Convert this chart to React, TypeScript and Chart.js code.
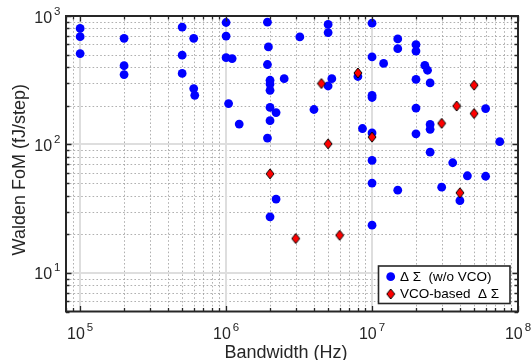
import React, { useEffect, useRef } from 'react';
import { Chart, registerables } from 'chart.js';

Chart.register(...registerables);

// ---- data ----
const sdmBandwidth = [
  1e5, 1e5, 1e5, 2e5, 2e5, 2e5, 5e5, 5e5, 5e5, 6e5, 6e5, 6.1e5,
  1e6, 1e6, 1e6, 1.1e6, 1.04e6, 1.23e6, 1.92e6, 1.95e6, 1.92e6,
  2e6, 2e6, 2e6, 2e6, 2.2e6, 2e6, 1.92e6, 2.5e6, 3.2e6, 4e6,
  5e6, 5e6, 5.3e6, 5e6, 8e6, 8.6e6,
  1e7, 1e7, 1e7, 1e7, 1e7, 1e7, 1e7, 1e7, 1.2e7, 1.5e7, 1.5e7, 1.5e7,
  2e7, 2e7, 2e7, 2e7, 2e7, 2.3e7, 2.4e7, 2.5e7, 2.5e7, 2.5e7, 2.5e7,
  3e7, 3.57e7, 4e7, 4.5e7, 6e7, 6e7, 7.5e7, 2.2e6, 2e6,
];
const sdmFoM = [
  800, 690, 510, 670, 410, 350, 820, 495, 357, 670, 272, 241,
  890, 698, 474, 466, 208, 144, 895, 574, 419,
  316, 295, 264, 194, 177, 153, 112, 325, 687, 187,
  860, 743, 325, 285, 338, 133,
  880, 480, 241, 232, 123, 75, 50, 23.5, 427, 663, 557, 44,
  598, 533, 321, 192, 121, 413, 378, 301, 143, 131, 87,
  46.5, 72, 36.5, 57, 190, 56.5, 105, 37.5, 27.3,
];
const vcoBandwidth = [2e6, 3e6, 4.5e6, 5e6, 6e6, 8e6, 1e7, 3e7, 3.8e7, 4e7, 5e7, 5e7];
const vcoFoM = [59, 18.5, 298, 101, 19.6, 360, 114, 146, 199, 42, 289, 174];

const xTickExponents = [5, 6, 7, 8];
const yTickExponents = [1, 2, 3];
const xAxisTitle = 'Bandwidth (Hz)';
const yAxisTitle = 'Walden FoM (fJ/step)';
const legendLabels = ['\u0394 \u03A3  (w/o VCO)', 'VCO-based  \u0394 \u03A3'];

const X_MIN = 8e4;
const X_MAX = 1e8;
const Y_MIN = 5;
const Y_MAX = 1000;

const FONT = '"Liberation Sans", Arial, Helvetica, sans-serif';
const AXIS_COLOR = '#262626';

function makeDiamond(): HTMLCanvasElement {
  const c = document.createElement('canvas');
  c.width = 10;
  c.height = 12;
  const g = c.getContext('2d')!;
  g.beginPath();
  g.moveTo(5, 1);
  g.lineTo(9, 6);
  g.lineTo(5, 11);
  g.lineTo(1, 6);
  g.closePath();
  g.fillStyle = '#ff0000';
  g.fill();
  g.lineWidth = 1;
  g.strokeStyle = '#000000';
  g.stroke();
  return c;
}

function logValues(min: number, max: number) {
  const out: { v: number; major: boolean }[] = [];
  const d0 = Math.floor(Math.log10(min));
  const d1 = Math.ceil(Math.log10(max));
  for (let d = d0; d <= d1; d++) {
    for (let m = 1; m <= 9; m++) {
      const v = m * Math.pow(10, d);
      if (v < min * 0.9999 || v > max * 1.0001) continue;
      out.push({ v, major: m === 1 });
    }
  }
  return out;
}

function makePlugin(diamond: HTMLCanvasElement) {
  return {
    id: 'matlabAxes',
    beforeDatasetsDraw(chart: any) {
      const { ctx, chartArea: a } = chart;
      const xs = chart.scales.x;
      const ys = chart.scales.y;
      ctx.save();
      ctx.beginPath();
      ctx.rect(a.left, a.top, a.right - a.left, a.bottom - a.top);
      ctx.clip();
      const xv = logValues(X_MIN, X_MAX);
      const yv = logValues(Y_MIN, Y_MAX);
      // minor dotted grid
      ctx.setLineDash([1.6, 2.2]);
      ctx.strokeStyle = 'rgba(150,150,150,0.75)';
      ctx.lineWidth = 1;
      ctx.beginPath();
      for (const t of xv) {
        if (t.major) continue;
        const px = Math.round(xs.getPixelForValue(t.v)) + 0.5;
        ctx.moveTo(px, a.top);
        ctx.lineTo(px, a.bottom);
      }
      for (const t of yv) {
        if (t.major) continue;
        const py = Math.round(ys.getPixelForValue(t.v)) + 0.5;
        ctx.moveTo(a.left, py);
        ctx.lineTo(a.right, py);
      }
      ctx.stroke();
      // major solid grid
      ctx.setLineDash([]);
      ctx.strokeStyle = '#dedede';
      ctx.lineWidth = 2;
      ctx.beginPath();
      for (const t of xv) {
        if (!t.major) continue;
        const px = Math.round(xs.getPixelForValue(t.v));
        ctx.moveTo(px, a.top);
        ctx.lineTo(px, a.bottom);
      }
      for (const t of yv) {
        if (!t.major) continue;
        const py = Math.round(ys.getPixelForValue(t.v));
        ctx.moveTo(a.left, py);
        ctx.lineTo(a.right, py);
      }
      ctx.stroke();
      ctx.restore();
    },
    afterDatasetsDraw(chart: any) {
      const { ctx, chartArea: a } = chart;
      const xs = chart.scales.x;
      const ys = chart.scales.y;
      ctx.save();
      // ticks (inside, all four sides)
      ctx.strokeStyle = AXIS_COLOR;
      ctx.lineWidth = 1.3;
      ctx.beginPath();
      for (const t of logValues(X_MIN, X_MAX)) {
        const px = Math.round(xs.getPixelForValue(t.v)) + 0.5;
        const len = t.major ? 5.5 : 3.5;
        ctx.moveTo(px, a.bottom);
        ctx.lineTo(px, a.bottom - len);
        ctx.moveTo(px, a.top);
        ctx.lineTo(px, a.top + len);
      }
      for (const t of logValues(Y_MIN, Y_MAX)) {
        const py = Math.round(ys.getPixelForValue(t.v)) + 0.5;
        const len = t.major ? 5.5 : 3.5;
        ctx.moveTo(a.left, py);
        ctx.lineTo(a.left + len, py);
        ctx.moveTo(a.right, py);
        ctx.lineTo(a.right - len, py);
      }
      ctx.stroke();
      // box
      ctx.lineWidth = 2;
      ctx.strokeRect(a.left, a.top, a.right - a.left, a.bottom - a.top);

      // tick labels
      ctx.fillStyle = AXIS_COLOR;
      ctx.textBaseline = 'alphabetic';
      ctx.textAlign = 'left';
      const mainFont = '16px ' + FONT;
      const supFont = '11.5px ' + FONT;
      for (const e of xTickExponents) {
        const px = xs.getPixelForValue(Math.pow(10, e));
        ctx.font = mainFont;
        const w1 = ctx.measureText('10').width;
        ctx.font = supFont;
        const w2 = ctx.measureText(String(e)).width;
        const total = w1 + 2 + w2;
        const x0 = px - total / 2;
        ctx.font = mainFont;
        ctx.fillText('10', x0, 338.5);
        ctx.font = supFont;
        ctx.fillText(String(e), x0 + w1 + 2, 330.5);
      }
      for (const e of yTickExponents) {
        const py = ys.getPixelForValue(Math.pow(10, e));
        ctx.font = supFont;
        const w2 = ctx.measureText(String(e)).width;
        ctx.font = mainFont;
        const w1 = ctx.measureText('10').width;
        const right = a.left - 5.5;
        const x0 = right - w2 - 2 - w1;
        ctx.fillText('10', x0, py + 6.5);
        ctx.font = supFont;
        ctx.fillText(String(e), x0 + w1 + 2, py - 1.5);
      }

      // axis titles
      ctx.font = '18px ' + FONT;
      ctx.textAlign = 'center';
      ctx.fillText(xAxisTitle, (a.left + a.right) / 2 - 6, 357.5);
      ctx.save();
      ctx.translate(25, (a.top + a.bottom) / 2 + 6);
      ctx.rotate(-Math.PI / 2);
      ctx.fillText(yAxisTitle, 0, 0);
      ctx.restore();

      // legend
      const lx = 378.5, ly = 266, lw = 131.5, lh = 37.5;
      ctx.fillStyle = '#ffffff';
      ctx.fillRect(lx, ly, lw, lh);
      ctx.strokeStyle = AXIS_COLOR;
      ctx.lineWidth = 1.6;
      ctx.strokeRect(lx, ly, lw, lh);
      const rows = [276.7, 294];
      // marker 1: blue circle
      ctx.fillStyle = '#0000ff';
      ctx.beginPath();
      ctx.arc(390.7, rows[0], 4.4, 0, Math.PI * 2);
      ctx.fill();
      // marker 2: diamond
      ctx.drawImage(diamond, 390.7 - diamond.width / 2, rows[1] - diamond.height / 2);
      ctx.fillStyle = '#000000';
      ctx.font = '13.5px ' + FONT;
      ctx.textAlign = 'left';
      ctx.textBaseline = 'middle';
      ctx.fillText(legendLabels[0], 400, rows[0] + 0.5);
      ctx.fillText(legendLabels[1], 400, rows[1] + 0.5);
      ctx.restore();
    },
  };
}

export default function App() {
  const canvasRef = useRef<HTMLCanvasElement | null>(null);

  useEffect(() => {
    if (!canvasRef.current) return;
    const diamond = makeDiamond();
    const sdmPoints = sdmBandwidth.map((x, i) => ({ x, y: sdmFoM[i] }));
    const vcoPoints = vcoBandwidth.map((x, i) => ({ x, y: vcoFoM[i] }));

    const chart = new Chart(canvasRef.current, {
      type: 'scatter',
      data: {
        datasets: [
          {
            label: legendLabels[0],
            data: sdmPoints,
            backgroundColor: '#0000ff',
            borderWidth: 0,
            pointRadius: 4.4,
            pointStyle: 'circle',
            order: 2,
          },
          {
            label: legendLabels[1],
            data: vcoPoints,
            backgroundColor: '#ff0000',
            borderColor: '#000000',
            pointStyle: diamond as any,
            order: 1,
          },
        ],
      },
      options: {
        animation: false,
        responsive: false,
        devicePixelRatio: 1,
        events: [],
        layout: { padding: { top: 16, right: 14, left: 0, bottom: 0 } },
        plugins: {
          legend: { display: false },
          tooltip: { enabled: false },
          title: { display: false },
        },
        scales: {
          x: {
            type: 'logarithmic',
            min: X_MIN,
            max: X_MAX,
            ticks: { display: false },
            grid: { display: false },
            border: { display: false },
            afterFit: (s: any) => {
              s.height = 48.5;
            },
          },
          y: {
            type: 'logarithmic',
            min: Y_MIN,
            max: Y_MAX,
            ticks: { display: false },
            grid: { display: false },
            border: { display: false },
            afterFit: (s: any) => {
              s.width = 66;
            },
          },
        },
      },
      plugins: [makePlugin(diamond)],
    } as any);

    return () => {
      chart.destroy();
    };
  }, []);

  return (
    <div style={{ position: 'fixed', left: 0, top: 0, width: 532, height: 360, background: '#ffffff' }}>
      <canvas ref={canvasRef} width={532} height={360} style={{ display: 'block', width: 532, height: 360 }} />
    </div>
  );
}
